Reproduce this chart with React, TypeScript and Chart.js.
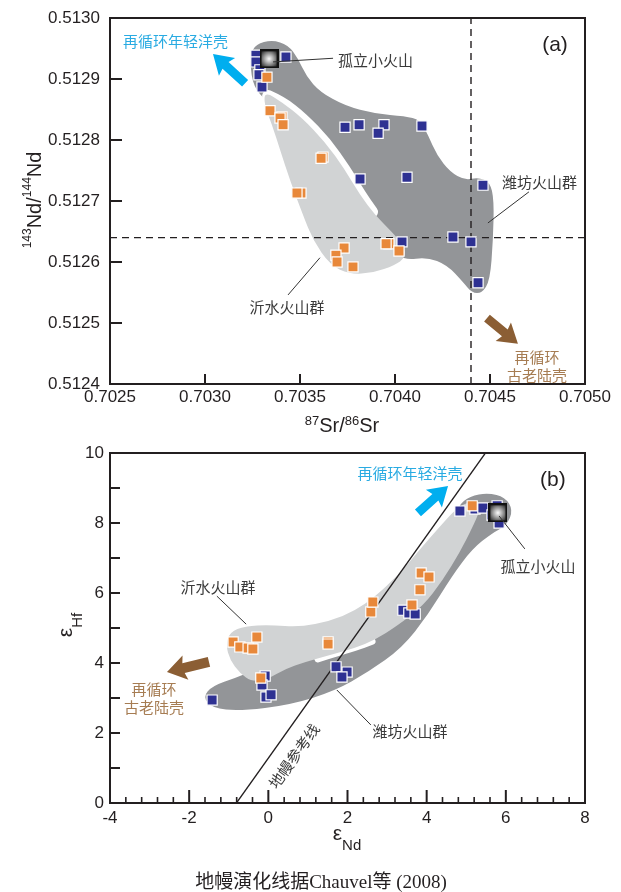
import React, { useEffect, useRef } from 'react';
import { Chart, registerables } from 'chart.js';

Chart.register(...registerables);

// ================= Panel (a): 87Sr/86Sr vs 143Nd/144Nd =================
const srTicks = [0.7025, 0.703, 0.7035, 0.704, 0.7045, 0.705];
const ndTicks = [0.5124, 0.5125, 0.5126, 0.5127, 0.5128, 0.5129, 0.513];

// 潍坊火山群 samples
const weifangSr = [0.703268, 0.703268, 0.703289, 0.703284, 0.7033, 0.703426, 0.703737, 0.703811, 0.703942, 0.703911, 0.704142, 0.703816, 0.704063, 0.704463, 0.704037, 0.704305, 0.7044, 0.704437];
const weifangNd = [0.512939, 0.512928, 0.512915, 0.512907, 0.512887, 0.512936, 0.512821, 0.512825, 0.512825, 0.512811, 0.512823, 0.512736, 0.512739, 0.512726, 0.512633, 0.512641, 0.512633, 0.512566];
// 沂水火山群 samples
const yishuiSr = [0.703326, 0.703342, 0.703405, 0.703395, 0.703411, 0.703621, 0.703611, 0.703505, 0.703484, 0.703732, 0.703689, 0.703695, 0.703779, 0.703968, 0.703953, 0.704021];
const yishuiNd = [0.512903, 0.512848, 0.512838, 0.512836, 0.512825, 0.512772, 0.51277, 0.512713, 0.512713, 0.512623, 0.512611, 0.5126, 0.512592, 0.51263, 0.51263, 0.512618];
// 孤立小火山
const isolatedSr = [0.703337];
const isolatedNd = [0.512933];
// reference dashed lines
const refSr = 0.7044;
const refNd = 0.51264;

// fields (outline vertices)
const wfFieldSr = [0.703237, 0.703268, 0.703353, 0.703437, 0.703489, 0.703532, 0.703605, 0.703737, 0.703895, 0.704053, 0.704132, 0.704174, 0.704221, 0.704289, 0.704368, 0.704437, 0.7045, 0.704521, 0.704516, 0.7045, 0.704458, 0.704405, 0.704358, 0.704274, 0.704168, 0.704053, 0.703974, 0.703816, 0.703605, 0.703447, 0.7033, 0.703247];
const wfFieldNd = [0.512939, 0.512957, 0.512964, 0.512956, 0.512934, 0.512905, 0.512879, 0.512856, 0.512843, 0.512839, 0.512833, 0.512808, 0.512775, 0.512748, 0.512734, 0.512739, 0.512731, 0.512702, 0.512636, 0.51257, 0.512549, 0.512549, 0.512567, 0.512595, 0.512608, 0.512603, 0.51262, 0.512677, 0.512767, 0.512833, 0.512869, 0.512895];
const ysFieldSr = [0.703316, 0.703405, 0.703511, 0.703632, 0.703737, 0.703816, 0.703895, 0.703984, 0.704053, 0.704053, 0.704, 0.703884, 0.703763, 0.703658, 0.703568, 0.703516, 0.703447, 0.703395, 0.703353, 0.703311];
const ysFieldNd = [0.512879, 0.512862, 0.512836, 0.512797, 0.512751, 0.51271, 0.512677, 0.512649, 0.512625, 0.512607, 0.512595, 0.512582, 0.51258, 0.512595, 0.512636, 0.512677, 0.512734, 0.512784, 0.512825, 0.512859];
const gapASr = [0.703332, 0.703405, 0.703511, 0.703632, 0.703737, 0.703816, 0.703879];
const gapANd = [0.512872, 0.512862, 0.512836, 0.512797, 0.512751, 0.51271, 0.512682];

// ================= Panel (b): εNd vs εHf =================
const endTicks = [-4, -2, 0, 2, 4, 6, 8];
const endMinorStep = 0.4;
const ehfTicks = [0, 2, 4, 6, 8, 10];
const ehfMinorStep = 1;

const weifangENd = [-1.42, -0.08, -0.16, -0.06, 0.07, 1.71, 1.99, 1.86, 3.4, 3.55, 3.71, 4.84, 5.22, 5.42, 5.78, 5.65, 5.83];
const weifangEHf = [2.94, 3.63, 3.37, 3.03, 3.09, 3.89, 3.74, 3.6, 5.51, 5.43, 5.4, 8.34, 8.4, 8.43, 8.49, 8.23, 8.0];
const yishuiENd = [-0.89, -0.72, -0.51, -0.39, -0.29, 1.51, 1.51, -0.19, 2.59, 2.64, 3.63, 3.83, 3.86, 4.06, 5.15];
const yishuiEHf = [4.6, 4.46, 4.43, 4.4, 4.74, 4.6, 4.54, 3.57, 5.46, 5.74, 5.66, 6.09, 6.57, 6.46, 8.49];
const isolatedENd = [5.8];
const isolatedEHf = [8.29];
// mantle array (Chauvel et al. 2008): εHf = 1.59 εNd + 1.28
const mantleENd = [-0.805, 5.484];
const mantleEHf = [0, 10];

const wfFieldENd = [-1.65, -1.42, -0.72, 0.55, 1.68, 2.52, 3.38, 4.03, 4.64, 5.15, 5.65, 6.03, 6.18, 5.98, 5.55, 5.09, 4.79, 4.72, 4.08, 3.33, 2.44, 1.56, 0.55, -0.21, -0.84, -1.42];
const wfFieldEHf = [3.03, 2.71, 2.63, 2.8, 3.2, 3.74, 4.43, 5.37, 6.49, 7.26, 7.71, 7.94, 8.37, 8.74, 8.86, 8.77, 8.49, 7.94, 6.8, 5.8, 5.0, 4.51, 4.14, 3.86, 3.57, 3.34];
const ysFieldENd = [-1.07, -0.97, -0.59, 0.04, 0.8, 1.56, 2.19, 2.69, 3.28, 3.88, 4.39, 4.74, 5.04, 5.3, 5.35, 5.15, 4.84, 4.41, 3.91, 3.25, 2.69, 2.19, 1.56, 0.93, 0.42, -0.01, -0.41, -0.72, -0.97];
const ysFieldEHf = [4.51, 4.89, 5.06, 5.09, 5.03, 5.2, 5.49, 5.89, 6.51, 7.31, 7.97, 8.4, 8.6, 8.6, 8.37, 7.86, 7.17, 6.37, 5.63, 5.06, 4.66, 4.43, 4.23, 4.03, 3.83, 3.54, 3.46, 3.71, 4.09];
const gapBENd = [1.25, 1.81, 2.32, 2.62];
const gapBEHf = [4.12, 4.31, 4.49, 4.62];

// ================= styles =================
const SANS = '"Liberation Sans", Arial, Helvetica, sans-serif';
const CJK = '"Noto Sans CJK SC", "Noto Sans", sans-serif';
const SERIF = '"Liberation Serif", "Noto Sans CJK SC", serif';
const INK = '#231f20';
const LABEL = '#3a3a3a';
const BLUE = '#2e3192';
const ORANGE = '#e8883a';
const DARK_FIELD = '#939598';
const LIGHT_FIELD = '#d1d3d4';
const CYAN = '#00aeef';
const CYAN_TEXT = '#29abe2';
const BROWN = '#8b5e34';
const BROWN_TEXT = '#a67c52';

type P = { x: number; y: number };
interface Layer { kind: 'fill' | 'gap'; xs: number[]; ys: number[]; color: string; width?: number }
interface Arrow { x1: number; y1: number; x2: number; y2: number; color: string; shaft: number; head: number; headW: number }
interface Label { text: string; x: number; y: number; color: string; size: number; align?: CanvasTextAlign; along?: number[]; font?: string }
interface Leader { x1: number; y1: number; x2: number; y2: number }
interface TickSpec { major: number[]; minorStep?: number; majorLen: number; minorLen: number }
interface PanelSpec { layers: Layer[]; arrows: Arrow[]; labels: Label[]; leaders: Leader[]; xt: TickSpec; yt: TickSpec; titles: (ctx: CanvasRenderingContext2D) => void }

const toPts = (xs: number[], ys: number[]) => xs.map((x, i) => ({ x, y: ys[i] }));

function smoothClosed(ctx: CanvasRenderingContext2D, pts: P[]) {
  const n = pts.length;
  const mid = (a: P, b: P) => ({ x: (a.x + b.x) / 2, y: (a.y + b.y) / 2 });
  const s = mid(pts[n - 1], pts[0]);
  ctx.beginPath();
  ctx.moveTo(s.x, s.y);
  for (let i = 0; i < n; i++) {
    const p = pts[i];
    const m = mid(p, pts[(i + 1) % n]);
    ctx.quadraticCurveTo(p.x, p.y, m.x, m.y);
  }
  ctx.closePath();
}

function smoothOpen(ctx: CanvasRenderingContext2D, pts: P[]) {
  ctx.beginPath();
  ctx.moveTo(pts[0].x, pts[0].y);
  for (let i = 1; i < pts.length - 1; i++) {
    const m = { x: (pts[i].x + pts[i + 1].x) / 2, y: (pts[i].y + pts[i + 1].y) / 2 };
    ctx.quadraticCurveTo(pts[i].x, pts[i].y, m.x, m.y);
  }
  const l = pts[pts.length - 1];
  ctx.lineTo(l.x, l.y);
}

function drawArrow(ctx: CanvasRenderingContext2D, x1: number, y1: number, x2: number, y2: number, a: Arrow) {
  const dx = x2 - x1, dy = y2 - y1;
  const L = Math.hypot(dx, dy);
  const ux = dx / L, uy = dy / L, nx = -uy, ny = ux;
  const bx = x2 - ux * a.head, by = y2 - uy * a.head;
  const s = a.shaft / 2, h = a.headW / 2;
  ctx.beginPath();
  ctx.moveTo(x1 + nx * s, y1 + ny * s);
  ctx.lineTo(bx + nx * s, by + ny * s);
  ctx.lineTo(bx + nx * h - ux * 2, by + ny * h - uy * 2);
  ctx.lineTo(x2, y2);
  ctx.lineTo(bx - nx * h - ux * 2, by - ny * h - uy * 2);
  ctx.lineTo(bx - nx * s, by - ny * s);
  ctx.lineTo(x1 - nx * s, y1 - ny * s);
  ctx.closePath();
  ctx.fillStyle = a.color;
  ctx.fill();
}

interface Part { t: string; size: number; dy: number }
function richText(ctx: CanvasRenderingContext2D, parts: Part[], x: number, y: number) {
  let total = 0;
  for (const p of parts) {
    ctx.font = `${p.size}px ${SANS}`;
    total += ctx.measureText(p.t).width;
  }
  let cx = x - total / 2;
  ctx.textAlign = 'left';
  ctx.textBaseline = 'alphabetic';
  ctx.fillStyle = INK;
  for (const p of parts) {
    ctx.font = `${p.size}px ${SANS}`;
    ctx.fillText(p.t, cx, y + p.dy);
    cx += ctx.measureText(p.t).width;
  }
}

function makePlugin(spec: PanelSpec) {
  return {
    id: 'panelDecor',
    beforeDatasetsDraw(chart: any) {
      const { ctx, chartArea: a } = chart;
      const sx = chart.scales.x, sy = chart.scales.y;
      ctx.save();
      ctx.beginPath();
      ctx.rect(a.left, a.top, a.right - a.left, a.bottom - a.top);
      ctx.clip();
      for (const L of spec.layers) {
        const pts = L.xs.map((v, i) => ({ x: sx.getPixelForValue(v), y: sy.getPixelForValue(L.ys[i]) }));
        if (L.kind === 'fill') {
          smoothClosed(ctx, pts);
          ctx.fillStyle = L.color;
          ctx.fill();
        } else {
          smoothOpen(ctx, pts);
          ctx.strokeStyle = L.color;
          ctx.lineWidth = L.width || 8;
          ctx.lineCap = 'round';
          ctx.lineJoin = 'round';
          ctx.stroke();
        }
      }
      ctx.restore();
    },
    afterDatasetsDraw(chart: any) {
      const { ctx, chartArea: a } = chart;
      const sx = chart.scales.x, sy = chart.scales.y;
      const X = (v: number) => sx.getPixelForValue(v);
      const Y = (v: number) => sy.getPixelForValue(v);
      ctx.save();
      // leader lines
      ctx.strokeStyle = '#333';
      ctx.lineWidth = 1;
      for (const l of spec.leaders) {
        ctx.beginPath();
        ctx.moveTo(X(l.x1), Y(l.y1));
        ctx.lineTo(X(l.x2), Y(l.y2));
        ctx.stroke();
      }
      // arrows
      for (const ar of spec.arrows) drawArrow(ctx, X(ar.x1), Y(ar.y1), X(ar.x2), Y(ar.y2), ar);
      // labels
      for (const lb of spec.labels) {
        ctx.save();
        ctx.font = `${lb.size}px ${lb.font || CJK}`;
        ctx.fillStyle = lb.color;
        ctx.textAlign = lb.align || 'center';
        ctx.textBaseline = 'middle';
        ctx.translate(X(lb.x), Y(lb.y));
        if (lb.along) {
          const ang = Math.atan2(Y(lb.along[3]) - Y(lb.along[1]), X(lb.along[2]) - X(lb.along[0]));
          ctx.rotate(ang);
        }
        ctx.fillText(lb.text, 0, 0);
        ctx.restore();
      }
      // frame
      ctx.strokeStyle = INK;
      ctx.lineWidth = 2;
      ctx.strokeRect(a.left, a.top, a.right - a.left, a.bottom - a.top);
      // x ticks (inward)
      const near = (v: number, arr: number[]) => arr.some((m) => Math.abs(m - v) < 1e-9);
      ctx.lineWidth = 2;
      for (const v of spec.xt.major) {
        ctx.beginPath();
        ctx.moveTo(X(v), a.bottom);
        ctx.lineTo(X(v), a.bottom - spec.xt.majorLen);
        ctx.stroke();
      }
      if (spec.xt.minorStep) {
        const n = Math.round((sx.max - sx.min) / spec.xt.minorStep);
        ctx.lineWidth = 1.6;
        for (let i = 0; i <= n; i++) {
          const v = sx.min + i * spec.xt.minorStep;
          if (near(v, spec.xt.major)) continue;
          ctx.beginPath();
          ctx.moveTo(X(v), a.bottom);
          ctx.lineTo(X(v), a.bottom - spec.xt.minorLen);
          ctx.stroke();
        }
      }
      ctx.lineWidth = 2;
      for (const v of spec.yt.major) {
        ctx.beginPath();
        ctx.moveTo(a.left, Y(v));
        ctx.lineTo(a.left + spec.yt.majorLen, Y(v));
        ctx.stroke();
      }
      if (spec.yt.minorStep) {
        const n = Math.round((sy.max - sy.min) / spec.yt.minorStep);
        for (let i = 0; i <= n; i++) {
          const v = sy.min + i * spec.yt.minorStep;
          if (near(v, spec.yt.major)) continue;
          ctx.beginPath();
          ctx.moveTo(a.left, Y(v));
          ctx.lineTo(a.left + spec.yt.minorLen, Y(v));
          ctx.stroke();
        }
      }
      spec.titles(ctx);
      ctx.restore();
    },
  };
}

function makeIcon(size: number) {
  const c = document.createElement('canvas');
  c.width = size;
  c.height = size;
  const g = c.getContext('2d') as CanvasRenderingContext2D;
  g.fillStyle = '#111';
  g.fillRect(0, 0, size, size);
  const r = size / 2;
  const grad = g.createRadialGradient(r, r, 0, r, r, r * 1.05);
  grad.addColorStop(0, '#ffffff');
  grad.addColorStop(0.45, '#a8a8a8');
  grad.addColorStop(1, '#333333');
  g.fillStyle = grad;
  g.fillRect(2, 2, size - 4, size - 4);
  return c;
}

const tickFont = { family: SANS, size: 17 };

function baseScale(min: number, max: number, ticks: number[], fmt: (v: number) => string, horizontal: boolean, size: number, pad: number) {
  return {
    type: 'linear' as const,
    min,
    max,
    grid: { display: false, drawTicks: false },
    border: { display: false },
    afterBuildTicks: (s: any) => {
      s.ticks = ticks.map((v) => ({ value: v }));
    },
    afterFit: (s: any) => {
      if (horizontal) {
        s.height = size;
        s.paddingLeft = 0;
        s.paddingRight = 0;
      } else {
        s.width = size;
        s.paddingTop = 0;
        s.paddingBottom = 0;
      }
    },
    ticks: { callback: (v: any) => fmt(Number(v)), font: tickFont, color: INK, padding: pad, maxRotation: 0, minRotation: 0, autoSkip: false },
  };
}

const markerStyle = (color: string) => ({
  pointStyle: 'rect' as const,
  pointRadius: 7.2,
  backgroundColor: color,
  borderColor: '#ffffff',
  borderWidth: 1.2,
});

export default function App() {
  const topRef = useRef<HTMLCanvasElement>(null);
  const botRef = useRef<HTMLCanvasElement>(null);

  useEffect(() => {
    const icon = makeIcon(19);

    // ---------- panel (a) ----------
    const specA: PanelSpec = {
      layers: [
        { kind: 'fill', xs: wfFieldSr, ys: wfFieldNd, color: DARK_FIELD },
        { kind: 'gap', xs: gapASr, ys: gapANd, color: '#ffffff', width: 12 },
        { kind: 'fill', xs: ysFieldSr, ys: ysFieldNd, color: LIGHT_FIELD },
      ],
      arrows: [
        { x1: 0.703211, y1: 0.512893, x2: 0.703042, y2: 0.512941, color: CYAN, shaft: 9, head: 17, headW: 24 },
        { x1: 0.704484, y1: 0.512508, x2: 0.704647, y2: 0.512466, color: BROWN, shaft: 9, head: 17, headW: 24 },
      ],
      labels: [
        { text: '再循环年轻洋壳', x: 0.702568, y: 0.512961, color: CYAN_TEXT, size: 15, align: 'left' },
        { text: '孤立小火山', x: 0.7037, y: 0.51293, color: LABEL, size: 15, align: 'left' },
        { text: '(a)', x: 0.704842, y: 0.512956, color: INK, size: 21, font: SANS },
        { text: '潍坊火山群', x: 0.704563, y: 0.51273, color: LABEL, size: 15, align: 'left' },
        { text: '沂水火山群', x: 0.703432, y: 0.512525, color: LABEL, size: 15 },
        { text: '再循环', x: 0.704747, y: 0.512444, color: BROWN_TEXT, size: 15 },
        { text: '古老陆壳', x: 0.704747, y: 0.512415, color: BROWN_TEXT, size: 15 },
      ],
      leaders: [
        { x1: 0.703358, y1: 0.512928, x2: 0.703674, y2: 0.512934 },
        { x1: 0.704489, y1: 0.512664, x2: 0.704705, y2: 0.512715 },
        { x1: 0.703437, y1: 0.512546, x2: 0.703605, y2: 0.512607 },
      ],
      xt: { major: srTicks, majorLen: 10, minorLen: 0 },
      yt: { major: ndTicks, majorLen: 12, minorLen: 0 },
      titles: (ctx) => {
        richText(ctx, [
          { t: '87', size: 13, dy: -7 },
          { t: 'Sr/', size: 20, dy: 0 },
          { t: '86', size: 13, dy: -7 },
          { t: 'Sr', size: 20, dy: 0 },
        ], 342, 432);
        ctx.save();
        ctx.translate(41, 200);
        ctx.rotate(-Math.PI / 2);
        richText(ctx, [
          { t: '143', size: 12, dy: -10 },
          { t: 'Nd/', size: 20, dy: 0 },
          { t: '144', size: 12, dy: -10 },
          { t: 'Nd', size: 20, dy: 0 },
        ], 0, 0);
        ctx.restore();
      },
    };

    const chartA = new Chart(topRef.current as HTMLCanvasElement, {
      type: 'scatter',
      data: {
        datasets: [
          { label: '孤立小火山', data: toPts(isolatedSr, isolatedNd), pointStyle: icon as any, pointRadius: 10, order: 0 },
          { label: '沂水火山群', data: toPts(yishuiSr, yishuiNd), ...markerStyle(ORANGE), order: 1 },
          { label: '潍坊火山群', data: toPts(weifangSr, weifangNd), ...markerStyle(BLUE), order: 2 },
          { label: 'Sr ref', data: [{ x: refSr, y: ndTicks[0] }, { x: refSr, y: ndTicks[ndTicks.length - 1] }], showLine: true, borderColor: INK, borderWidth: 1.4, borderDash: [7, 5], pointRadius: 0, order: 5 } as any,
          { label: 'Nd ref', data: [{ x: srTicks[0], y: refNd }, { x: srTicks[srTicks.length - 1], y: refNd }], showLine: true, borderColor: INK, borderWidth: 1.4, borderDash: [7, 5], pointRadius: 0, order: 5 } as any,
        ],
      },
      options: {
        animation: false,
        responsive: false,
        devicePixelRatio: 1,
        events: [],
        layout: { padding: { left: 0, right: 36, top: 18, bottom: 0 } },
        plugins: { legend: { display: false }, tooltip: { enabled: false } },
        scales: {
          x: baseScale(0.7025, 0.705, srTicks, (v) => v.toFixed(4), true, 56, 3) as any,
          y: baseScale(0.5124, 0.513, ndTicks, (v) => v.toFixed(4), false, 110, 10) as any,
        },
      },
      plugins: [makePlugin(specA) as any],
    });

    // ---------- panel (b) ----------
    const specB: PanelSpec = {
      layers: [
        { kind: 'fill', xs: wfFieldENd, ys: wfFieldEHf, color: DARK_FIELD },
        { kind: 'gap', xs: gapBENd, ys: gapBEHf, color: '#ffffff', width: 7 },
        { kind: 'fill', xs: ysFieldENd, ys: ysFieldEHf, color: LIGHT_FIELD },
      ],
      arrows: [
        { x1: 3.78, y1: 8.29, x2: 4.54, y2: 9.06, color: CYAN, shaft: 9, head: 17, headW: 24 },
        { x1: -1.5, y1: 4.03, x2: -2.56, y2: 3.74, color: BROWN, shaft: 10, head: 17, headW: 25 },
      ],
      labels: [
        { text: '再循环年轻洋壳', x: 3.58, y: 9.43, color: CYAN_TEXT, size: 15 },
        { text: '(b)', x: 7.19, y: 9.23, color: INK, size: 21, font: SANS },
        { text: '孤立小火山', x: 6.81, y: 6.77, color: LABEL, size: 15 },
        { text: '沂水火山群', x: -1.27, y: 6.17, color: LABEL, size: 15 },
        { text: '潍坊火山群', x: 3.58, y: 2.06, color: LABEL, size: 15 },
        { text: '再循环', x: -2.89, y: 3.26, color: BROWN_TEXT, size: 15 },
        { text: '古老陆壳', x: -2.89, y: 2.74, color: BROWN_TEXT, size: 15 },
        { text: '地幔参考线', x: 0.65, y: 1.34, color: LABEL, size: 15, along: [mantleENd[0], mantleEHf[0], mantleENd[1], mantleEHf[1]] },
      ],
      leaders: [
        { x1: 5.83, y1: 8.2, x2: 6.48, y2: 7.26 },
        { x1: -1.3, y1: 5.91, x2: -0.56, y2: 5.11 },
        { x1: 1.73, y1: 3.23, x2: 2.59, y2: 2.23 },
      ],
      xt: { major: endTicks, minorStep: endMinorStep, majorLen: 13, minorLen: 6 },
      yt: { major: ehfTicks, minorStep: ehfMinorStep, majorLen: 10, minorLen: 10 },
      titles: (ctx) => {
        richText(ctx, [
          { t: 'ε', size: 21, dy: 0 },
          { t: 'Nd', size: 15, dy: 10 },
        ], 347, 400);
        ctx.save();
        ctx.translate(72, 185);
        ctx.rotate(-Math.PI / 2);
        richText(ctx, [
          { t: 'ε', size: 21, dy: 0 },
          { t: 'Hf', size: 15, dy: 10 },
        ], 0, 0);
        ctx.restore();
        ctx.font = `19px ${SERIF}`;
        ctx.fillStyle = INK;
        ctx.textAlign = 'center';
        ctx.textBaseline = 'middle';
        ctx.fillText('地幔演化线据Chauvel等 (2008)', 321, 443);
      },
    };

    const chartB = new Chart(botRef.current as HTMLCanvasElement, {
      type: 'scatter',
      data: {
        datasets: [
          { label: '孤立小火山', data: toPts(isolatedENd, isolatedEHf), pointStyle: icon as any, pointRadius: 10, order: 0 },
          { label: '沂水火山群', data: toPts(yishuiENd, yishuiEHf), ...markerStyle(ORANGE), order: 1 },
          { label: '潍坊火山群', data: toPts(weifangENd, weifangEHf), ...markerStyle(BLUE), order: 2 },
          { label: '地幔参考线', data: toPts(mantleENd, mantleEHf), showLine: true, borderColor: INK, borderWidth: 1.3, pointRadius: 0, order: 5 } as any,
        ],
      },
      options: {
        animation: false,
        responsive: false,
        devicePixelRatio: 1,
        events: [],
        layout: { padding: { left: 0, right: 36, top: 13, bottom: 0 } },
        plugins: { legend: { display: false }, tooltip: { enabled: false } },
        scales: {
          x: baseScale(-4, 8, endTicks, (v) => String(v), true, 89, 5) as any,
          y: baseScale(0, 10, ehfTicks, (v) => String(v), false, 110, 6) as any,
        },
      },
      plugins: [makePlugin(specB) as any],
    });

    return () => {
      chartA.destroy();
      chartB.destroy();
    };
  }, []);

  return (
    <div style={{ position: 'absolute', left: 0, top: 0, width: 621, height: 892, background: '#fff' }}>
      <canvas ref={topRef} width={621} height={440} style={{ position: 'absolute', left: 0, top: 0, width: 621, height: 440 }} />
      <canvas ref={botRef} width={621} height={452} style={{ position: 'absolute', left: 0, top: 440, width: 621, height: 452 }} />
    </div>
  );
}
